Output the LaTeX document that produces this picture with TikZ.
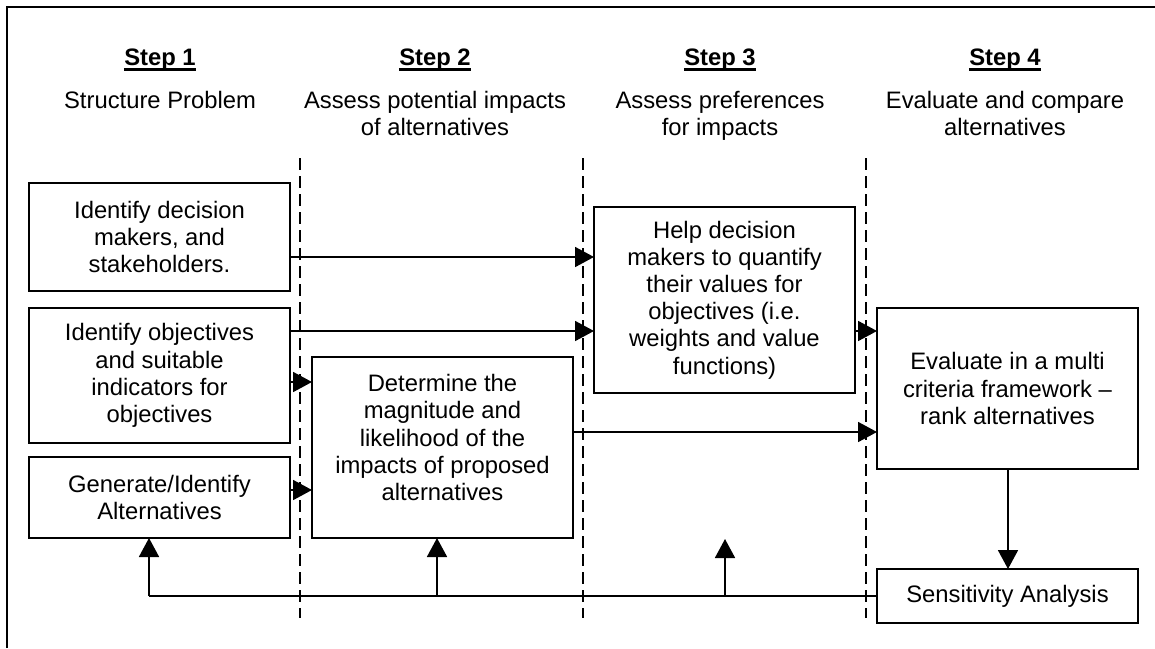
\documentclass[tikz,border=0pt]{standalone}
\usepackage{fontspec}
\setmainfont{Liberation Sans}
\usetikzlibrary{arrows.meta}
\begin{document}
\begin{tikzpicture}[x=0.5pt,y=-0.5pt,
  every node/.style={font=\fontsize{11.9}{13.6}\selectfont},
  box/.style={draw,line width=0.9pt,inner sep=0pt,outer sep=0pt,align=center,anchor=north west},
  head/.style={align=center,inner sep=0pt},
  steptitle/.style={inner sep=0pt,anchor=base,font=\fontsize{11.9}{13.6}\selectfont\bfseries},
  uline/.style={line width=1.4pt},
  arr/.style={line width=0.9pt,-{Triangle[length=9.5pt,width=10pt]}},
  plain/.style={line width=0.9pt},
  divider/.style={line width=1.3pt,dash pattern=on 6pt off 3pt}]
\useasboundingbox (0,0) rectangle (1155,648);
% frame
\draw[line width=1pt] (7,648) -- (7,7) -- (1160,7);
% headers
\node[steptitle] (h1) at (160,65) {Step 1};
\node[steptitle] (h2) at (435,65) {Step 2};
\node[steptitle] (h3) at (720,65) {Step 3};
\node[steptitle] (h4) at (1005,65) {Step 4};
\foreach \h in {h1,h2,h3,h4}
  \draw[uline] ([yshift=-2.2pt]\h.base west) -- ([yshift=-2.2pt]\h.base east);
\node[head,anchor=north] (s1) at (160,91) {Structure Problem};
\node[head,anchor=north] (s2) at (435,91) {Assess potential impacts\\of alternatives};
\node[head,anchor=north] (s3) at (720,91) {Assess preferences\\for impacts};
\node[head,anchor=north] (s4) at (1005,91) {Evaluate and compare\\alternatives};
% dividers
\draw[divider] (300,158) -- (300,618);
\draw[divider] (583,158) -- (583,618);
\draw[divider] (866,158) -- (866,618);
% boxes
\node[box,minimum width=130.5pt,minimum height=54pt] (A) at (29,183) {Identify decision\\makers, and\\stakeholders.};
\node[box,minimum width=130.5pt,minimum height=67.5pt] (B) at (29,308) {Identify objectives\\and suitable\\indicators for\\objectives};
\node[box,minimum width=130.5pt,minimum height=40.5pt] (C) at (29,457) {Generate/Identify\\Alternatives};
\node[box,minimum width=130.5pt,minimum height=90.5pt] (D) at (312,357) {};
\node[align=center,inner sep=0pt,anchor=north] (Dt) at (D.north) [yshift=-8.5pt] {Determine the\\magnitude and\\likelihood of the\\impacts of proposed\\alternatives};
\node[box,minimum width=130.5pt,minimum height=93pt] (E) at (594,207) {Help decision\\makers to quantify\\their values for\\objectives (i.e.\\weights and value\\functions)};
\node[box,minimum width=130.5pt,minimum height=80.5pt] (F) at (877,308) {Evaluate in a multi\\criteria framework --\\rank alternatives};
\node[box,minimum width=130.5pt,minimum height=27pt] (G) at (877,569) {Sensitivity Analysis};
% connector heights
\coordinate (yAE) at (0,257);
\coordinate (yBE) at (0,331);
\coordinate (yBD) at (0,382);
\coordinate (yCD) at (0,490);
\coordinate (yEF) at (0,331);
\coordinate (yDF) at (0,432);
\draw[arr] (A.east |- yAE) -- (E.west |- yAE);
\draw[arr] (B.east |- yBE) -- (E.west |- yBE);
\draw[arr] (B.east |- yBD) -- (D.west |- yBD);
\draw[arr] (C.east |- yCD) -- (D.west |- yCD);
\draw[arr] (E.east |- yEF) -- (F.west |- yEF);
\draw[arr] (D.east |- yDF) -- (F.west |- yDF);
\coordinate (xFG) at (1008,0);
\draw[arr] (F.south -| xFG) -- (G.north -| xFG);
% feedback
\coordinate (fb1) at (149,596);
\coordinate (fb2) at (437,596);
\coordinate (fb3) at (725,596);
\coordinate (fb3end) at (725,539);
\draw[plain] (G.west |- fb1) -- (fb1);
\draw[arr] (fb1) -- (C.south -| fb1);
\draw[arr] (fb2) -- (D.south -| fb2);
\draw[arr] (fb3) -- (fb3end);
\end{tikzpicture}
\end{document}
